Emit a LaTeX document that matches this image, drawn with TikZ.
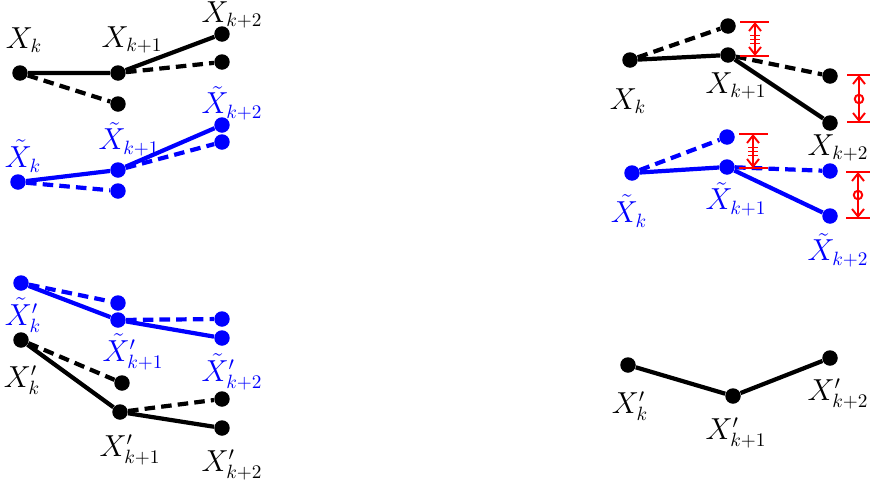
\documentclass[tikz,border=0pt]{standalone}
\definecolor{clean}{RGB}{0,0,0}
\definecolor{noisy}{RGB}{0,0,255}
\definecolor{gapred}{RGB}{255,0,0}
\usetikzlibrary{arrows.meta, positioning}

\begin{document}
\begin{tikzpicture}[x=0.02cm, y=-0.02cm, every node/.style={font=\fontsize{16}{19}\selectfont},
    vtx/.style={circle, fill, inner sep=0pt, minimum size=0.31cm},
    seg/.style={line width=2.4pt},
    alt/.style={line width=2.4pt, dash pattern=on 6pt off 3.5pt},
    gapbar/.style={gapred, line width=1.1pt},
    gaparrow/.style={gapred, line width=1.1pt, {Straight Barb[length=1.5mm, width=2.4mm]}-{Straight Barb[length=1.5mm, width=2.4mm]}}]
    \useasboundingbox (0,0) rectangle (870,484);

    % top left, clean
    \node[vtx, clean] (a0) at (20,73) {};
    \node[vtx, clean] (a1) at (118,73) {};
    \node[vtx, clean] (a2) at (222,34) {};
    \node[vtx, clean] (a1d) at (118,104) {};
    \node[vtx, clean] (a2d) at (222,62) {};
    \draw[seg, clean] (a0) -- (a1) -- (a2);
    \draw[alt, clean] (a0) -- (a1d);
    \draw[alt, clean] (a1) -- (a2d);
    \node[clean] (la0) at (24,40) {$X_k$};
    \node[clean] (la1) at (132,40) {$X_{k+1}$};
    \node[clean] (la2) at (232,15) {$X_{k+2}$};

    % top left, noisy
    \node[vtx, noisy] (b0) at (18,182) {};
    \node[vtx, noisy] (b1) at (118,170) {};
    \node[vtx, noisy] (b2) at (222,125) {};
    \node[vtx, noisy] (b1d) at (118,191) {};
    \node[vtx, noisy] (b2d) at (222,142) {};
    \draw[seg, noisy] (b0) -- (b1) -- (b2);
    \draw[alt, noisy] (b0) -- (b1d);
    \draw[alt, noisy] (b1) -- (b2d);
    \node[noisy] (lb0) at (23,156) {$\tilde{X}_k$};
    \node[noisy] (lb1) at (129,139) {$\tilde{X}_{k+1}$};
    \node[noisy] (lb2) at (232,103) {$\tilde{X}_{k+2}$};

    % bottom left, noisy
    \node[vtx, noisy] (c0) at (21,283) {};
    \node[vtx, noisy] (c1) at (118,320) {};
    \node[vtx, noisy] (c2) at (222,338) {};
    \node[vtx, noisy] (c1d) at (118,303) {};
    \node[vtx, noisy] (c2d) at (222,319) {};
    \draw[seg, noisy] (c0) -- (c1) -- (c2);
    \draw[alt, noisy] (c0) -- (c1d);
    \draw[alt, noisy] (c1) -- (c2d);
    \node[noisy] (lc0) at (23,315) {$\tilde{X}'_k$};
    \node[noisy] (lc1) at (133,352) {$\tilde{X}'_{k+1}$};
    \node[noisy] (lc2) at (232,372) {$\tilde{X}'_{k+2}$};

    % bottom left, clean
    \node[vtx, clean] (d0) at (21,340) {};
    \node[vtx, clean] (d1) at (120,412) {};
    \node[vtx, clean] (d2) at (222,428) {};
    \node[vtx, clean] (d1d) at (122,383) {};
    \node[vtx, clean] (d2d) at (222,399) {};
    \draw[seg, clean] (d0) -- (d1) -- (d2);
    \draw[alt, clean] (d0) -- (d1d);
    \draw[alt, clean] (d1) -- (d2d);
    \node[clean] (ld0) at (22,380) {$X'_k$};
    \node[clean] (ld1) at (130,450) {$X'_{k+1}$};
    \node[clean] (ld2) at (232,465) {$X'_{k+2}$};

    % right, clean
    \node[vtx, clean] (e0) at (630,60) {};
    \node[vtx, clean] (e1) at (728,55) {};
    \node[vtx, clean] (e2) at (830,123) {};
    \node[vtx, clean] (e1d) at (728,26) {};
    \node[vtx, clean] (e2d) at (830,76) {};
    \draw[seg, clean] (e0) -- (e1) -- (e2);
    \draw[alt, clean] (e0) -- (e1d);
    \draw[alt, clean] (e1) -- (e2d);
    \node[clean] (le0) at (628,101) {$X_k$};
    \node[clean] (le1) at (736,86) {$X_{k+1}$};
    \node[clean] (le2) at (838,148) {$X_{k+2}$};

    % right, noisy
    \node[vtx, noisy] (f0) at (632,173) {};
    \node[vtx, noisy] (f1) at (727,167) {};
    \node[vtx, noisy] (f2) at (830,216) {};
    \node[vtx, noisy] (f1d) at (727,137) {};
    \node[vtx, noisy] (f2d) at (830,171) {};
    \draw[seg, noisy] (f0) -- (f1) -- (f2);
    \draw[alt, noisy] (f0) -- (f1d);
    \draw[alt, noisy] (f1) -- (f2d);
    \node[noisy] (lf0) at (629,211) {$\tilde{X}_k$};
    \node[noisy] (lf1) at (736,199) {$\tilde{X}_{k+1}$};
    \node[noisy] (lf2) at (838,250) {$\tilde{X}_{k+2}$};

    % gaps, first step
    \draw[gapbar] (740,22) -- (769,22) (740,56) -- (769,56);
    \draw[gaparrow] (755,22) -- (755,56);
    \draw[gapbar] (750,35.5) -- (760,35.5) (750,39.5) -- (760,39.5) (750,43.5) -- (760,43.5);
    \draw[gapbar] (739,134) -- (768,134) (739,168) -- (768,168);
    \draw[gaparrow] (753,134) -- (753,168);
    \draw[gapbar] (748,147.5) -- (758,147.5) (748,151.5) -- (758,151.5) (748,155.5) -- (758,155.5);

    % gaps, second step
    \draw[gapbar] (847,75) -- (870,75) (847,122) -- (870,122);
    \draw[gaparrow] (859,75) -- (859,122);
    \draw[gapbar] (859,99) circle [radius=0.085cm];
    \draw[gapbar] (846,172) -- (870,172) (846,218) -- (870,218);
    \draw[gaparrow] (858,172) -- (858,218);
    \draw[gapbar] (858,195) circle [radius=0.085cm];

    % bottom right
    \node[vtx, clean] (g0) at (628,365) {};
    \node[vtx, clean] (g1) at (733,396) {};
    \node[vtx, clean] (g2) at (830,358) {};
    \draw[seg, clean] (g0) -- (g1) -- (g2);
    \node[clean] (lg0) at (630,406) {$X'_k$};
    \node[clean] (lg1) at (736,433) {$X'_{k+1}$};
    \node[clean] (lg2) at (838,394) {$X'_{k+2}$};
\end{tikzpicture}
\end{document}
